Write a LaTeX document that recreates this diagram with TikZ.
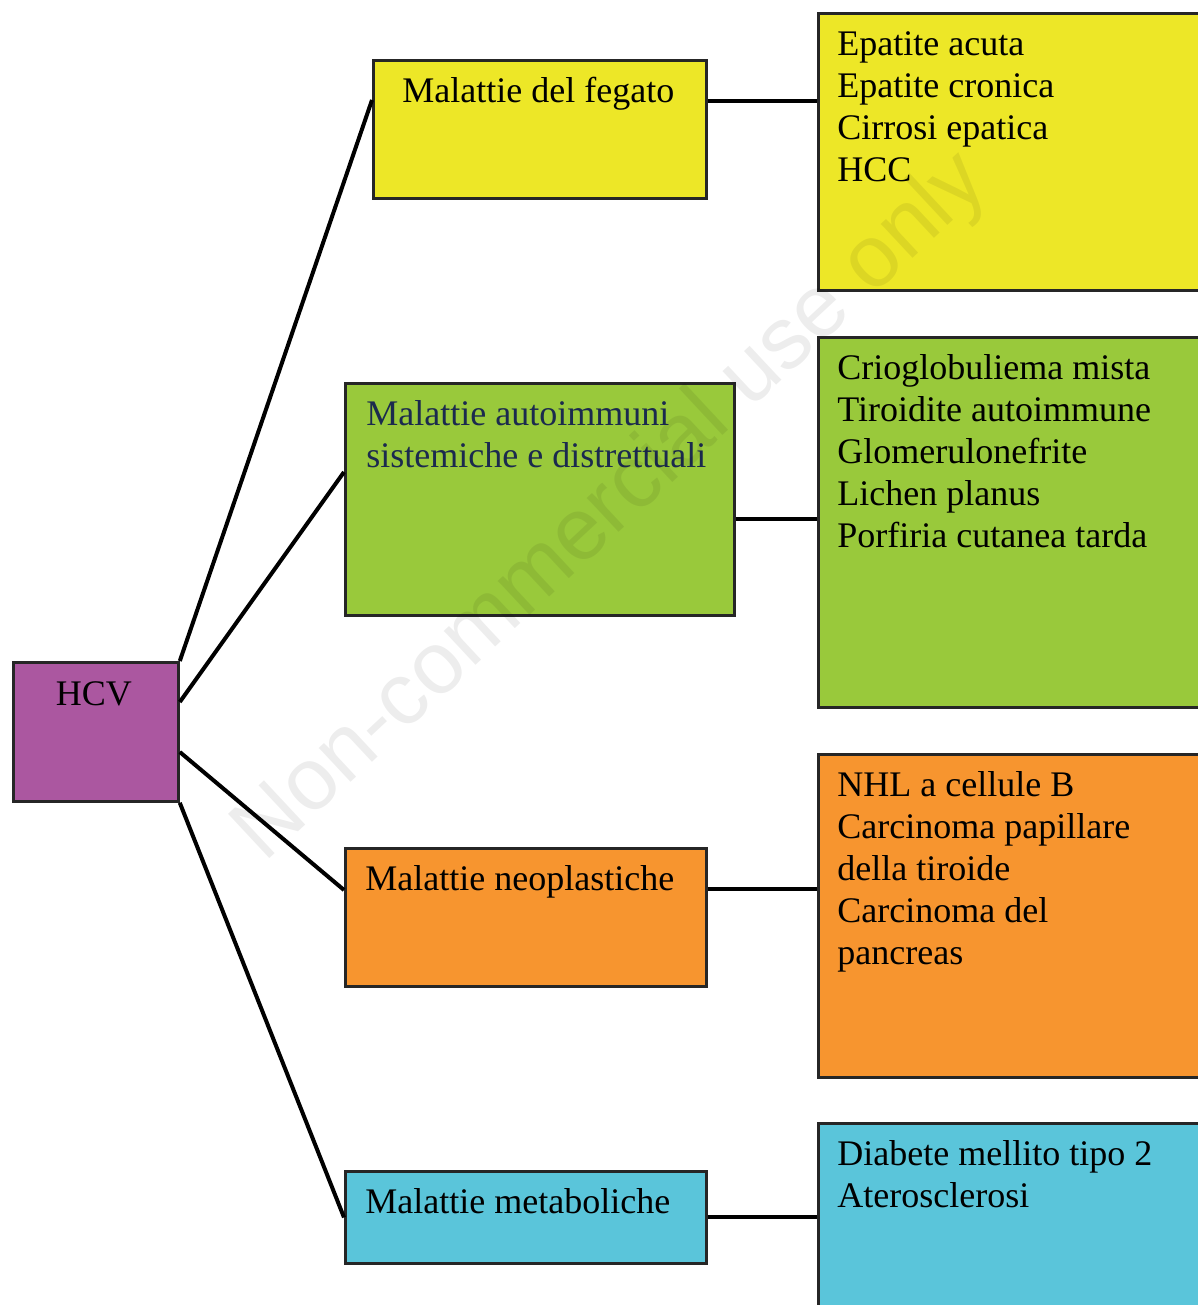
\documentclass[tikz,border=0pt]{standalone}
\usepackage{fontspec}
\setmainfont{Liberation Serif}
\newfontfamily\markfont{Liberation Sans}
\usetikzlibrary{positioning}
\usepackage{xcolor}
\definecolor{virus}{HTML}{AB57A0}
\definecolor{liver}{HTML}{EDE727}
\definecolor{immune}{HTML}{99C93B}
\definecolor{tumour}{HTML}{F7952F}
\definecolor{metab}{HTML}{5AC5DA}
\definecolor{navy}{HTML}{1B2A4E}
\newcommand\stack[1]{\begin{tabular}[t]{@{}l@{}}#1\end{tabular}}

\begin{document}
\begin{tikzpicture}[x=0.5pt,y=-0.5pt,
      font=\fontsize{18}{21}\selectfont,
      box/.style={draw=black!85,line width=1.4pt,anchor=north west,inner sep=0pt},
      cat/.style={box,minimum width=180.5pt,minimum height=69pt},
      list/.style={box,minimum width=200pt},
      txt/.style={anchor=base west,inner sep=0pt},
      link/.style={line width=2pt,black}]

    \useasboundingbox (0,0) rectangle (1198,1305);
    \clip (0,0) rectangle (1198,1305);

    % root
    \node[box,fill=virus,minimum width=82.5pt,minimum height=69.5pt] (hcv) at (12,661) {};
    \node[anchor=base,inner sep=0pt] at ([xshift=-1pt,yshift=-22pt]hcv.north) {HCV};

    % categories
    \node[cat,fill=liver,minimum width=166.5pt] (fegato) at (372,59) {};
    \node[cat,fill=immune,minimum width=194.5pt,minimum height=116pt] (autoimm) at (344,382) {};
    \node[cat,fill=tumour] (neopl) at (344,847) {};
    \node[cat,fill=metab,minimum height=46pt] (metabol) at (344,1170) {};

    \node[txt] at ([xshift=15pt,yshift=-22pt]fegato.north west) {Malattie del fegato};
    \node[txt,text=navy] at ([xshift=11pt,yshift=-21.5pt]autoimm.north west)
      {\stack{Malattie autoimmuni\\ sistemiche e distrettuali}};
    \node[txt] at ([xshift=10.5pt,yshift=-21.5pt]neopl.north west) {Malattie neoplastiche};
    \node[txt] at ([xshift=10.5pt,yshift=-21.5pt]metabol.north west) {Malattie metaboliche};

    % disease lists
    \node[list,fill=liver,minimum height=138.5pt] (fegatolist) at (817,12) {};
    \node[list,fill=immune,minimum height=185pt] (autolist) at (817,336) {};
    \node[list,fill=tumour,minimum height=161.5pt] (neolist) at (817,753) {};
    \node[list,fill=metab,minimum height=100pt] (metalist) at (817,1122) {};

    \node[txt] at ([xshift=10pt,yshift=-22pt]fegatolist.north west)
      {\stack{Epatite acuta\\ Epatite cronica\\ Cirrosi epatica\\ HCC}};
    \node[txt] at ([xshift=10pt,yshift=-21.5pt]autolist.north west)
      {\stack{Crioglobuliema mista\\ Tiroidite autoimmune\\ Glomerulonefrite\\ Lichen planus\\ Porfiria cutanea tarda}};
    \node[txt] at ([xshift=10pt,yshift=-21.5pt]neolist.north west)
      {\stack{NHL a cellule B\\ Carcinoma papillare\\ della tiroide\\ Carcinoma del\\ pancreas}};
    \node[txt] at ([xshift=10pt,yshift=-21.5pt]metalist.north west)
      {\stack{Diabete mellito tipo 2\\ Aterosclerosi}};

    % branches
    \draw[link] (hcv.north east) -- ([yshift=-20.5pt]fegato.north west);
    \draw[link] ([yshift=-20.5pt]hcv.north east) -- ([yshift=-45pt]autoimm.north west);
    \draw[link] ([yshift=-45.5pt]hcv.north east) -- ([yshift=-21.5pt]neopl.north west);
    \draw[link] (hcv.south east) -- (metabol.west);

    \coordinate (a1) at ([yshift=-21pt]fegato.north east);
    \coordinate (a2) at ([yshift=-68.5pt]autoimm.north east);
    \coordinate (a3) at ([yshift=-21pt]neopl.north east);
    \draw[link] (a1) -- (a1 -| fegatolist.west);
    \draw[link] (a2) -- (a2 -| autolist.west);
    \draw[link] (a3) -- (a3 -| neolist.west);
    \draw[link] (metabol.east) -- (metabol.east -| metalist.west);

    % watermark
    \node[rotate=43,text=black,text opacity=0.07,font=\markfont\fontsize{44}{44}\selectfont] (mark)
      at (612,508) {Non-commercial use only};
  \end{tikzpicture}
\end{document}
